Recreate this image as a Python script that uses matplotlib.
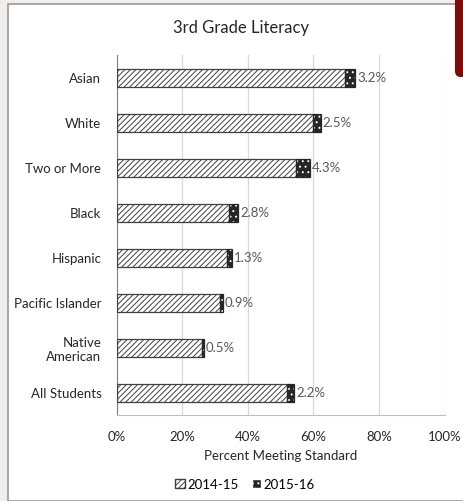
import matplotlib.pyplot as plt
from matplotlib.patches import Rectangle, FancyBboxPatch, Patch
import numpy as np

plt.rcParams['font.family'] = ['Lato', 'DejaVu Sans']
plt.rcParams['hatch.linewidth'] = 0.7

groups = ["Asian", "White", "Two or More", "Black", "Hispanic",
          "Pacific Islander", "Native\nAmerican", "All Students"]
base_1415 = [69.5, 59.8, 54.6, 34.2, 33.8, 31.5, 26.0, 52.0]
gain_1516 = [3.2, 2.5, 4.3, 2.8, 1.3, 0.9, 0.5, 2.2]
xticks = [0, 20, 40, 60, 80, 100]

fig = plt.figure(figsize=(4.63, 5.02), dpi=100)
fig.patch.set_facecolor('#f1eeed')

# white chart area with border, like the screenshot
fig.patches.append(Rectangle((8 / 463, 0), 1, 1 - 5 / 502, transform=fig.transFigure,
                             facecolor='white', edgecolor='#9a9a9a', lw=1.2, zorder=-10))
fig.patches.append(FancyBboxPatch((455 / 463, 1 - 78 / 502), 0.05, 0.2,
                                  boxstyle="round,pad=0,rounding_size=0.012",
                                  transform=fig.transFigure, facecolor='#7a0c0c',
                                  edgecolor='none', zorder=-5))

ax = fig.add_axes([116.7 / 463, 1 - 416 / 502, 327.8 / 463, 360 / 502])
ax.set_facecolor('none')
ax.set_zorder(1)

y = np.arange(len(groups))
h = 0.4
ax.barh(y, base_1415, height=h, color='white', edgecolor='#404040',
        hatch='//////', linewidth=0, zorder=2)
ax.barh(y, gain_1516, left=base_1415, height=h, color='#262626',
        edgecolor='white', hatch='...', linewidth=0, zorder=2)
ax.barh(y, base_1415, height=h, fill=False, edgecolor='#404040', linewidth=0.9, zorder=3)
ax.barh(y, gain_1516, left=base_1415, height=h, fill=False, edgecolor='#262626',
        linewidth=0.9, zorder=3)

for yi, b, g in zip(y, base_1415, gain_1516):
    ax.text(b + g + 0.6, yi, "%.1f%%" % g, va='center', ha='left',
            fontsize=9.5, color='#595959', zorder=4)

ax.set_xlim(0, 100)
ax.set_ylim(len(groups) - 0.5, -0.5)
ax.set_xticks(xticks)
ax.set_xticklabels(["%d%%" % t for t in xticks], fontsize=9.5, color='#262626')
ax.set_yticks(y)
ax.set_yticklabels(groups, fontsize=9.5, color='#262626')
ax.tick_params(axis='both', length=0)
ax.tick_params(axis='y', pad=11)
ax.tick_params(axis='x', pad=11)
ax.grid(axis='x', color='#d9d9d9', linewidth=0.9, zorder=0)
ax.set_axisbelow(True)
for s in ['top', 'right']:
    ax.spines[s].set_visible(False)
ax.spines['left'].set_color('#7f7f7f')
ax.spines['bottom'].set_color('#bfbfbf')
ax.set_xlabel("Percent Meeting Standard", fontsize=9.5, color='#262626', labelpad=5)

fig.text(241 / 463, 1 - 28 / 502, "3rd Grade Literacy", ha='center', va='center',
         fontsize=12, color='#262626')

handles = [Patch(facecolor='white', edgecolor='#404040', hatch='//////', label='2014-15'),
           Patch(facecolor='#262626', edgecolor='white', hatch='...', label='2015-16')]
fig.legend(handles=handles, loc='center', bbox_to_anchor=(245 / 463, 1 - 485 / 502),
           ncol=2, frameon=False, fontsize=9.5, handlelength=0.7, handleheight=0.7,
           handletextpad=0.2, columnspacing=1.0)

fig.savefig("out.png", dpi=100, facecolor=fig.get_facecolor())
